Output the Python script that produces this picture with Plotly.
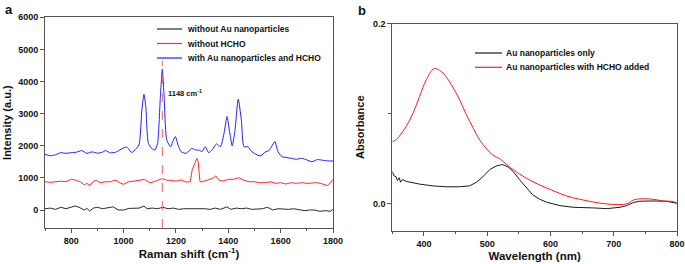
import plotly.graph_objects as go

# ---------------- Panel a: Raman spectra ----------------
raman_shift_blue = [700, 720, 740, 760, 780, 800, 820, 840, 860, 880, 900, 920, 930, 950, 970, 990, 1010, 1020, 1030, 1050, 1060, 1070, 1078, 1085, 1095, 1110, 1120, 1130, 1140, 1148, 1155, 1165, 1180, 1190, 1198, 1208, 1220, 1240, 1260, 1275, 1290, 1300, 1312, 1325, 1340, 1355, 1370, 1385, 1395, 1405, 1415, 1425, 1438, 1450, 1460, 1475, 1490, 1510, 1525, 1540, 1555, 1565, 1578, 1590, 1605, 1620, 1640, 1660, 1680, 1700, 1720, 1740, 1760, 1780, 1800]
intensity_blue = [1735, 1690, 1720, 1785, 1765, 1785, 1800, 1850, 1765, 1810, 1770, 1800, 1850, 1780, 1800, 1890, 1960, 1900, 1790, 1920, 2060, 3115, 3600, 3220, 2075, 1900, 1870, 2075, 3430, 4380, 3530, 2180, 1970, 2180, 2285, 2025, 1815, 1765, 1920, 1870, 1860, 1820, 1970, 1785, 1890, 2060, 1970, 2440, 2910, 2440, 1995, 2440, 3450, 2800, 1970, 1970, 1815, 1715, 1690, 1800, 1850, 1970, 2130, 1815, 1660, 1640, 1610, 1580, 1610, 1560, 1505, 1570, 1550, 1530, 1525]

raman_shift_red = [700, 720, 740, 760, 780, 800, 820, 835, 850, 860, 870, 880, 895, 910, 930, 950, 970, 985, 1000, 1020, 1040, 1060, 1080, 1100, 1120, 1140, 1150, 1165, 1180, 1200, 1220, 1240, 1255, 1262, 1270, 1280, 1285, 1292, 1300, 1320, 1340, 1352, 1365, 1380, 1400, 1420, 1440, 1460, 1480, 1500, 1520, 1540, 1560, 1580, 1600, 1620, 1640, 1660, 1680, 1700, 1720, 1740, 1760, 1780, 1790, 1800]
intensity_red = [880, 860, 880, 900, 880, 955, 925, 880, 780, 830, 760, 850, 935, 850, 880, 880, 935, 850, 800, 880, 900, 925, 955, 850, 890, 955, 975, 925, 925, 900, 935, 870, 880, 1245, 1400, 1610, 1505, 880, 880, 935, 985, 1060, 925, 900, 955, 955, 1005, 925, 880, 880, 850, 850, 880, 830, 850, 810, 850, 830, 850, 830, 830, 850, 810, 760, 850, 955]

raman_shift_black = [700, 720, 740, 760, 780, 800, 815, 830, 850, 860, 870, 885, 900, 920, 940, 960, 980, 1000, 1020, 1040, 1060, 1078, 1090, 1110, 1130, 1150, 1170, 1190, 1210, 1230, 1250, 1270, 1290, 1310, 1330, 1350, 1370, 1395, 1410, 1430, 1450, 1470, 1490, 1510, 1530, 1550, 1570, 1590, 1610, 1630, 1650, 1670, 1690, 1710, 1730, 1750, 1770, 1790, 1800]
intensity_black = [40, 60, 20, 85, 40, 100, 125, 85, 0, 50, -30, 60, 85, 40, 60, 100, 0, 0, 50, 60, 60, 125, 40, 60, 40, 85, 40, 60, 20, 40, 40, 60, 40, 40, 20, 60, 20, 100, 20, 60, 40, 60, 20, 40, 40, 85, 0, 40, 20, 20, 40, 0, -20, 0, 0, -40, -20, -40, 20]

peak_position = [1148, 1148]
peak_marker_span = [-560, 4650]

legend_a_labels = ["without Au nanoparticles", "without HCHO", "with Au nanoparticles and HCHO"]
legend_b_labels = ["Au nanoparticles only", "Au nanoparticles with HCHO added"]

# ---------------- Panel b: UV-vis spectra ----------------
wavelength_red = [350, 356, 361, 372, 383, 393, 404, 416, 425, 435, 446, 456, 467, 478, 488, 499, 509, 520, 530, 541, 562, 583, 604, 625, 646, 667, 689, 710, 720, 725, 731, 741, 762, 778, 794, 800]
absorbance_red = [0.069, 0.071, 0.075, 0.086, 0.101, 0.119, 0.138, 0.150, 0.148, 0.141, 0.129, 0.116, 0.099, 0.084, 0.071, 0.061, 0.054, 0.050, 0.044, 0.038, 0.0285, 0.021, 0.0148, 0.0089, 0.0052, 0.0022, 0.0, -0.0007, 0.0, 0.0015, 0.0044, 0.0056, 0.0052, 0.0033, 0.0026, 0.0007]

wavelength_black = [350, 353, 356, 358, 361, 363, 366, 372, 393, 414, 435, 456, 472, 483, 493, 504, 514, 524, 533, 541, 551, 562, 572, 583, 594, 615, 636, 667, 689, 710, 720, 731, 741, 762, 783, 800]
absorbance_black = [0.036, 0.031, 0.030, 0.026, 0.029, 0.024, 0.027, 0.025, 0.022, 0.020, 0.019, 0.019, 0.020, 0.024, 0.030, 0.038, 0.042, 0.0437, 0.041, 0.036, 0.027, 0.0174, 0.010, 0.0052, 0.0019, -0.0019, -0.0037, -0.0044, -0.0052, -0.0037, -0.0019, 0.0015, 0.003, 0.0033, 0.003, 0.0007]

FONT = "Arial, Liberation Sans, sans-serif"
W, H = 685, 264
C_BLACK_A, C_RED_A, C_BLUE_A = "#2b2b2b", "#ff2a2a", "#1f1fff"
C_BLACK_B, C_RED_B = "#1a1a1a", "#ff1a1a"

def px(x):
    return x / W

def py(y):
    return 1 - y / H

fig = go.Figure()

fig.add_trace(go.Scatter(x=raman_shift_black, y=intensity_black, mode="lines",
                         line=dict(color=C_BLACK_A, width=1), name=legend_a_labels[0],
                         xaxis="x", yaxis="y"))
fig.add_trace(go.Scatter(x=raman_shift_red, y=intensity_red, mode="lines",
                         line=dict(color=C_RED_A, width=1), name=legend_a_labels[1],
                         xaxis="x", yaxis="y"))
fig.add_trace(go.Scatter(x=raman_shift_blue, y=intensity_blue, mode="lines", line_shape="spline",
                         line=dict(color=C_BLUE_A, width=1, smoothing=0.6), name=legend_a_labels[2],
                         xaxis="x", yaxis="y"))
fig.add_trace(go.Scatter(x=peak_position, y=peak_marker_span, mode="lines",
                         line=dict(color="#ff5a5a", width=1, dash="dash"), showlegend=False,
                         xaxis="x", yaxis="y", hoverinfo="skip"))

fig.add_trace(go.Scatter(x=wavelength_black, y=absorbance_black, mode="lines",
                         line=dict(color=C_BLACK_B, width=1), name=legend_b_labels[0],
                         xaxis="x2", yaxis="y2"))
fig.add_trace(go.Scatter(x=wavelength_red, y=absorbance_red, mode="lines", line_shape="spline",
                         line=dict(color=C_RED_B, width=1), name=legend_b_labels[1],
                         xaxis="x2", yaxis="y2"))

axis_common = dict(showline=True, linecolor="#555555", linewidth=1, mirror=True,
                   ticks="outside", ticklen=4, tickcolor="#555555", showgrid=False, zeroline=False,
                   automargin=False,
                   tickfont=dict(family=FONT, size=9, color="#111111"))

# hand-placed legends (line sample + label) to match the compact original layout
shapes = []
annotations = []
for i, (lab, col) in enumerate(zip(legend_a_labels, [C_BLACK_A, C_RED_A, C_BLUE_A])):
    yy = 29 + i * 14.5
    shapes.append(dict(type="line", xref="paper", yref="paper", x0=px(157), x1=px(182),
                       y0=py(yy), y1=py(yy), line=dict(color=col, width=1.2)))
    annotations.append(dict(text="<b>" + lab + "</b>", x=px(184.5), y=py(yy), xref="paper", yref="paper",
                            xanchor="left", yanchor="middle", showarrow=False,
                            font=dict(size=8.5, family=FONT, color="#111111")))
for i, (lab, col) in enumerate(zip(legend_b_labels, [C_BLACK_B, C_RED_B])):
    yy = 53 + i * 14.3
    shapes.append(dict(type="line", xref="paper", yref="paper", x0=px(475), x1=px(502),
                       y0=py(yy), y1=py(yy), line=dict(color=col, width=1.2)))
    annotations.append(dict(text="<b>" + lab + "</b>", x=px(503.5), y=py(yy), xref="paper", yref="paper",
                            xanchor="left", yanchor="middle", showarrow=False,
                            font=dict(size=8.5, family=FONT, color="#111111")))

annotations += [
    dict(text="<b>a</b>", x=px(3), y=py(0), xref="paper", yref="paper", xanchor="left", yanchor="top",
         showarrow=False, font=dict(size=13, family=FONT, color="#111111")),
    dict(text="<b>b</b>", x=px(356), y=py(1), xref="paper", yref="paper", xanchor="left", yanchor="top",
         showarrow=False, font=dict(size=13, family=FONT, color="#111111")),
    dict(text="<b>1148 cm<sup>-1</sup></b>", x=1163, y=3650, xref="x", yref="y", xanchor="left",
         yanchor="middle", showarrow=False, font=dict(size=7.5, family=FONT, color="#111111")),
]

fig.update_layout(
    width=W, height=H, margin=dict(l=0, r=0, t=0, b=0, autoexpand=False),
    paper_bgcolor="white", plot_bgcolor="white", showlegend=False,
    font=dict(family=FONT, color="#111111"),
    xaxis=dict(domain=[px(45), px(333)], range=[700, 1800], dtick=200, tick0=800,
               minor=dict(dtick=100, ticks="outside", ticklen=2, tickcolor="#555555"),
               tickprefix="<b>", ticksuffix="</b>",
               title=dict(text="<b>Raman shift (cm<sup>-1</sup>)</b>", font=dict(size=11.5, family=FONT), standoff=4),
               anchor="y", **axis_common),
    yaxis=dict(domain=[py(228), py(17.3)], range=[-560, 6000], dtick=1000, tick0=0,
               tickprefix="<b>", ticksuffix="</b>",
               title=dict(text="<b>Intensity (a.u.)</b>", font=dict(size=11, family=FONT), standoff=4),
               anchor="x", **axis_common),
    xaxis2=dict(domain=[px(392.3), px(677)], range=[350, 800], dtick=100, tick0=400,
                minor=dict(dtick=50, ticks="outside", ticklen=2, tickcolor="#555555"),
                tickprefix="<b>", ticksuffix="</b>",
                title=dict(text="<b>Wavelength (nm)</b>", font=dict(size=11.5, family=FONT), standoff=4),
                anchor="y2", **axis_common),
    yaxis2=dict(domain=[py(231), py(23.5)], range=[-0.03, 0.2], dtick=0.2, tick0=0, tickformat=".1f",
                minor=dict(dtick=0.1, ticks="outside", ticklen=3, tickcolor="#555555"),
                tickprefix="<b>", ticksuffix="</b>",
                title=dict(text="<b>Absorbance</b>", font=dict(size=11, family=FONT), standoff=6),
                anchor="x2", **axis_common),
    shapes=shapes,
    annotations=annotations,
)

fig.write_html("out.html", config={"displayModeBar": False},
               post_script="document.body.style.margin='0';document.body.style.overflow='hidden';")
